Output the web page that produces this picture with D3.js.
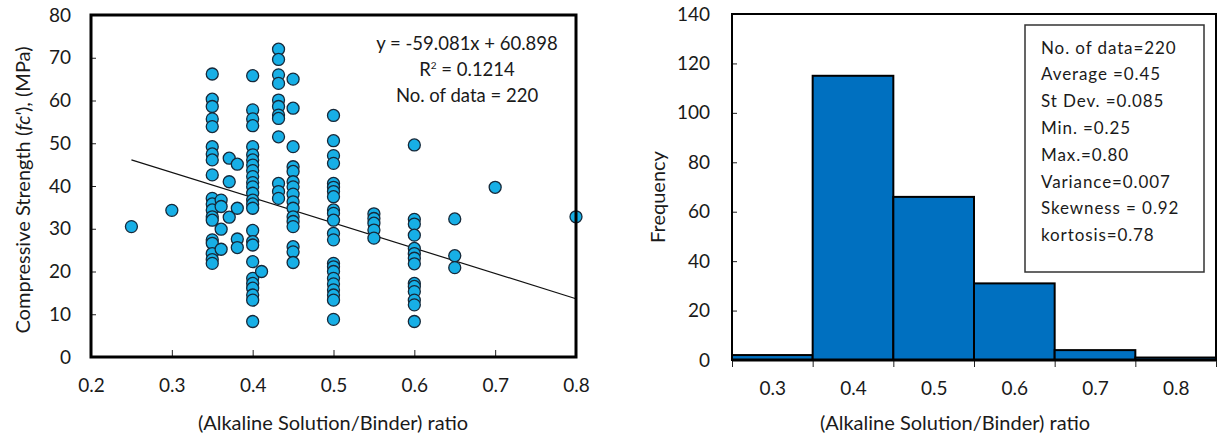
<!DOCTYPE html>
<html><head><meta charset="utf-8">
<script src="https://cdn.jsdelivr.net/npm/d3@7"></script>
<style>
html,body{margin:0;padding:0;background:#fff;}
svg{display:block;font-family:Lato,"Open Sans",sans-serif;}
</style></head>
<body>
<svg id="c" width="1222" height="438"></svg>
<script>
// ---------- DATA ----------
// Scatter: (Alkaline Solution/Binder) ratio vs compressive strength (MPa)
const ratioX = [0.25,0.30,
 0.35,0.35,0.35,0.35,0.35,0.35,0.35,0.35,0.35,0.35,0.35,0.35,0.35,0.35,0.35,0.35,0.35,0.35,0.35,
 0.361,0.361,0.361,0.361,
 0.371,0.371,0.371,
 0.381,0.381,0.381,0.381,
 0.40,0.40,0.40,0.40,0.40,0.40,0.40,0.40,0.40,0.40,0.40,0.40,0.40,0.40,0.40,0.40,0.40,0.40,0.40,0.40,0.40,0.40,0.40,0.40,0.40,0.40,
 0.411,
 0.432,0.432,0.432,0.432,0.432,0.432,0.432,0.432,0.432,0.432,0.432,0.432,
 0.45,0.45,0.45,0.45,0.45,0.45,0.45,0.45,0.45,0.45,0.45,0.45,0.45,0.45,0.45,0.45,
 0.50,0.50,0.50,0.50,0.50,0.50,0.50,0.50,0.50,0.50,0.50,0.50,0.50,0.50,0.50,0.50,0.50,0.50,0.50,0.50,0.50,0.50,
 0.55,0.55,0.55,0.55,0.55,
 0.60,0.60,0.60,0.60,0.60,0.60,0.60,0.60,0.60,0.60,0.60,0.60,0.60,0.60,
 0.65,0.65,0.65,
 0.70,0.80];
const strengthY = [30.5,34.3,
 66.2,60.3,58.6,55.7,53.9,49.2,47.5,46.1,42.6,37.1,35.8,34.4,32.8,32.0,27.4,26.6,24.2,22.8,21.9,
 36.7,35.2,29.9,25.2,
 46.5,41.0,32.7,
 45.1,34.8,27.6,25.6,
 65.8,57.8,55.7,54.1,49.2,47.3,46.1,44.9,43.6,42.2,40.8,39.8,38.3,36.7,35.8,34.8,29.6,27.0,26.2,22.3,18.4,17.2,16.1,14.5,13.3,8.3,
 20.0,
 72.0,69.6,66.0,64.0,60.1,58.6,56.6,55.8,51.5,40.6,38.7,37.1,
 65.0,58.2,49.2,44.5,43.4,41.0,39.8,38.1,36.3,34.8,32.8,31.7,30.5,25.8,24.6,22.1,
 56.5,50.6,47.1,45.3,40.6,39.7,38.7,37.5,34.4,33.6,32.0,28.9,27.4,21.9,21.1,20.0,18.4,17.1,15.7,14.5,13.3,8.8,
 33.5,32.4,31.3,29.7,27.8,
 49.6,32.2,31.1,28.5,25.4,24.2,23.1,21.8,17.2,16.5,15.3,13.3,12.2,8.3,
 32.3,23.7,20.9,
 39.7,32.8];
// Linear trend (as printed on chart)
const trendSlope = -59.081, trendIntercept = 60.898;
const trendRange = [0.25, 0.80];
const scatterXTicks = [0.2,0.3,0.4,0.5,0.6,0.7,0.8];
const scatterYTicks = [0,10,20,30,40,50,60,70,80];
const scatterNotes = ["y = -59.081x + 60.898", "R2", "No. of data = 220"];

// Histogram
const binStart = [0.25,0.35,0.45,0.55,0.65,0.75];
const binWidth = 0.1;
const binCount = [2,115,66,31,4,1];
const histLabels = [0.3,0.4,0.5,0.6,0.7,0.8];
const histYTicks = [0,20,40,60,80,100,120,140];
const statsLines = ["No. of data=220","Average =0.45","St Dev. =0.085","Min. =0.25","Max.=0.80","Variance=0.007","Skewness = 0.92","kortosis=0.78"];

// ---------- DRAW ----------
const svg = d3.select("#c");
const tickFont = 19;
const ink = "#1a1a1a";

// ===== Left: scatter =====
const L = {l:91, r:576, t:15, b:357};
const x1 = d3.scaleLinear().domain([0.2,0.8]).range([L.l,L.r]);
const y1 = d3.scaleLinear().domain([0,80]).range([L.b,L.t]);
const g1 = svg.append("g");

const ax1y = g1.append("g").attr("transform",`translate(${L.l},0)`)
  .call(d3.axisLeft(y1).tickValues(scatterYTicks).tickSizeInner(-5).tickSizeOuter(0).tickPadding(20).tickFormat(d3.format("d")));
const ax1x = g1.append("g").attr("transform",`translate(0,${L.b})`)
  .call(d3.axisBottom(x1).tickValues(scatterXTicks).tickSizeInner(-7).tickSizeOuter(0).tickPadding(22).tickFormat(d3.format(".1f")));
[ax1y,ax1x].forEach(a=>{
  a.select(".domain").remove();
  a.selectAll(".tick line").attr("stroke","#222").attr("stroke-width",1);
  a.selectAll("text").attr("font-size",tickFont).attr("fill",ink).attr("font-family","Lato");
});

g1.append("line")
  .attr("x1",x1(trendRange[0])).attr("y1",y1(trendSlope*trendRange[0]+trendIntercept))
  .attr("x2",x1(trendRange[1])).attr("y2",y1(trendSlope*trendRange[1]+trendIntercept))
  .attr("stroke","#111").attr("stroke-width",1.2);

g1.append("g").selectAll("circle").data(ratioX.map((d,i)=>[d,strengthY[i]])).join("circle")
  .attr("cx",d=>x1(d[0])).attr("cy",d=>y1(d[1])).attr("r",6)
  .attr("fill","#17afe6").attr("stroke","#16293a").attr("stroke-width",1.3);

g1.append("rect").attr("x",L.l).attr("y",L.t).attr("width",L.r-L.l).attr("height",L.b-L.t)
  .attr("fill","none").attr("stroke","#000").attr("stroke-width",3);

const noteX = 467, noteFont = 18.5;
g1.append("text").attr("x",noteX).attr("y",50).attr("text-anchor","middle").attr("font-size",noteFont).attr("fill",ink).text(scatterNotes[0]);
const r2 = g1.append("text").attr("x",noteX).attr("y",76).attr("text-anchor","middle").attr("font-size",noteFont).attr("fill",ink);
r2.append("tspan").text("R");
r2.append("tspan").attr("font-size",10).attr("dy",-7).text("2");
r2.append("tspan").attr("dy",7).text(" = 0.1214");
g1.append("text").attr("x",noteX).attr("y",102).attr("text-anchor","middle").attr("font-size",noteFont).attr("fill",ink).text(scatterNotes[2]);

g1.append("text").attr("x",333).attr("y",430).attr("text-anchor","middle").attr("font-size",20).attr("fill",ink)
  .text("(Alkaline Solution/Binder) ratio");
const yt = g1.append("text").attr("transform",`translate(30,190) rotate(-90)`).attr("text-anchor","middle").attr("font-size",20).attr("fill",ink);
yt.append("tspan").text("Compressive Strength (");
yt.append("tspan").attr("font-style","italic").text("fc'");
yt.append("tspan").text("), (MPa)");

// ===== Right: histogram =====
const R = {l:732, r:1216, t:14, b:360};
const x2 = d3.scaleLinear().domain([0.25,0.85]).range([R.l,R.r]);
const y2 = d3.scaleLinear().domain([0,140]).range([R.b,R.t]);
const g2 = svg.append("g");

g2.append("g").selectAll("rect").data(binStart.map((s,i)=>({s,c:binCount[i]}))).join("rect")
  .attr("x",d=>x2(d.s)).attr("width",d=>x2(d.s+binWidth)-x2(d.s))
  .attr("y",d=>y2(d.c)).attr("height",d=>y2(0)-y2(d.c))
  .attr("fill","#0070c0").attr("stroke","#000").attr("stroke-width",2);

const ax2y = g2.append("g").attr("transform",`translate(${R.l},0)`)
  .call(d3.axisLeft(y2).tickValues(histYTicks).tickSizeInner(-5).tickSizeOuter(0).tickPadding(22).tickFormat(d3.format("d")));
const edges = binStart.concat([binStart[binStart.length-1]+binWidth]);
const ax2x = g2.append("g").attr("transform",`translate(0,${R.b})`)
  .call(d3.axisBottom(x2).tickValues(edges).tickSizeInner(7).tickSizeOuter(0).tickFormat(""));
const ax2l = g2.append("g").attr("transform",`translate(0,${R.b})`)
  .call(d3.axisBottom(x2).tickValues(histLabels).tickSize(0).tickPadding(22).tickFormat(d3.format(".1f")));
[ax2y,ax2x,ax2l].forEach(a=>{
  a.select(".domain").remove();
  a.selectAll(".tick line").attr("stroke","#222").attr("stroke-width",1);
  a.selectAll("text").attr("font-size",tickFont).attr("fill",ink).attr("font-family","Lato");
});
g2.append("rect").attr("x",R.l).attr("y",R.t).attr("width",R.r-R.l).attr("height",R.b-R.t)
  .attr("fill","none").attr("stroke","#000").attr("stroke-width",2);
g2.append("line").attr("x1",R.l).attr("x2",R.r).attr("y1",R.b).attr("y2",R.b).attr("stroke","#000").attr("stroke-width",3);

g2.append("rect").attr("x",1025).attr("y",25).attr("width",179).attr("height",247)
  .attr("fill","#fff").attr("stroke","#333").attr("stroke-width",1.5);
g2.append("g").selectAll("text").data(statsLines).join("text")
  .attr("x",1041).attr("y",(d,i)=>53.5+i*26.8).attr("font-size",17).attr("fill",ink)
  .attr("letter-spacing",0.9).text(d=>d);

g2.append("text").attr("x",955).attr("y",430).attr("text-anchor","middle").attr("font-size",20).attr("fill",ink)
  .text("(Alkaline Solution/Binder) ratio");
g2.append("text").attr("transform",`translate(665,197) rotate(-90)`).attr("text-anchor","middle").attr("font-size",20).attr("fill",ink)
  .text("Frequency");
</script>
</body></html>
